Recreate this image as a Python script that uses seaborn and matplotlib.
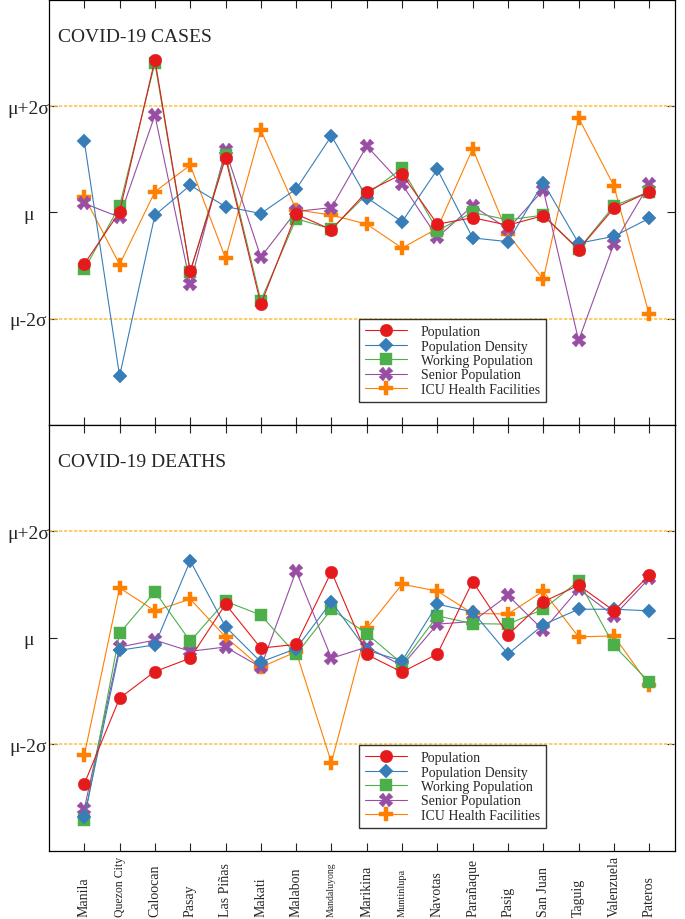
import numpy as np
import pandas as pd
import matplotlib
matplotlib.use("Agg")
import matplotlib.pyplot as plt
import seaborn as sns

# cities along the x axis
cities = ["Manila", "Quezon City", "Caloocan", "Pasay", "Las Piñas", "Makati",
          "Malabon", "Mandaluyong", "Marikina", "Muntinlupa", "Navotas",
          "Parañaque", "Pasig", "San Juan", "Taguig", "Valenzuela", "Pateros"]

series_names = ["Population", "Population Density", "Working Population",
                "Senior Population", "ICU Health Facilities"]

# standardised values (units of sigma around the mean)
pop_cases = [-0.97, 0.01, 2.875, -1.11, 1.025, -1.73, -0.03, -0.325, 0.39, 0.72,
             -0.22, -0.10, -0.24, -0.06, -0.70, 0.08, 0.39]
dens_cases = [1.34, -3.08, -0.05, 0.51, 0.11, -0.02, 0.44, 1.44, 0.28, -0.175,
              0.81, -0.48, -0.55, 0.56, -0.58, -0.45, -0.11]
work_cases = [-1.07, 0.12, 2.81, -1.12, 1.09, -1.66, -0.12, -0.31, 0.34, 0.83,
              -0.34, 0.0, -0.14, -0.05, -0.69, 0.125, 0.39]
senior_cases = [0.17, -0.09, 1.83, -1.34, 1.17, -0.84, 0.02, 0.09, 1.25, 0.53,
                -0.47, 0.125, -0.31, 0.425, -2.41, -0.59, 0.53]
icu_cases = [0.30, -0.98, 0.39, 0.89, -0.86, 1.55, 0.05, -0.05, -0.22, -0.67,
             -0.30, 1.20, -0.41, -1.26, 1.78, 0.50, -1.92]

pop_deaths = [-2.74, -1.13, -0.63, -0.38, 0.635, -0.19, -0.12, 1.245, -0.31, -0.64,
              -0.30, 1.06, 0.06, 0.68, 0.99, 0.51, 1.18]
dens_deaths = [-3.36, -0.23, -0.13, 1.45, 0.21, -0.45, -0.20, 0.68, -0.23, -0.43,
               0.635, 0.49, -0.30, 0.25, 0.54, 0.54, 0.51]
work_deaths = [-3.41, 0.09, 0.87, -0.06, 0.69, 0.43, -0.31, 0.54, 0.08, -0.48,
               0.415, 0.27, 0.26, 0.54, 1.07, -0.14, -0.83]
senior_deaths = [-3.21, -0.17, -0.04, -0.25, -0.17, -0.55, 1.26, -0.38, -0.17, -0.52,
                 0.26, 0.31, 0.80, 0.145, 0.92, 0.415, 1.12]
icu_deaths = [-2.20, 0.94, 0.51, 0.73, 0.02, -0.55, -0.26, -2.34, 0.18, 1.01,
              0.88, 0.46, 0.45, 0.88, 0.02, 0.04, -0.89]

ytick_vals = [-2, 0, 2]
ytick_labels = ["μ-2σ", "μ", "μ+2σ"]

colors = ["#e41a1c", "#377eb8", "#4daf4a", "#984ea3", "#ff7f00"]
markers = ["o", "D", "s", "X", "P"]
msizes = [9, 7.5, 8, 9.5, 9.5]
small_labels = {"Quezon City": 8.5, "Mandaluyong": 7, "Muntinlupa": 7.5}

sns.set_style("ticks")
plt.rcParams["font.family"] = ["Liberation Serif", "DejaVu Serif"]


def make_frame(vals):
    df = pd.DataFrame({"city": cities})
    for name, v in zip(series_names, vals):
        df[name] = v
    return df.melt(id_vars="city", var_name="factor", value_name="z")


def draw_panel(ax, df, title):
    # mean +/- 2 sigma reference lines
    for lvl in (2, -2):
        ax.axhline(lvl, color="#ffc34d", lw=1.2, ls=(0, (2, 1)), zorder=1)
    # draw back to front: ICU first, Population last (on top)
    for i in reversed(range(len(series_names))):
        sub = df[df["factor"] == series_names[i]]
        sns.lineplot(data=sub, x="city", y="z", ax=ax, sort=False,
                     color=colors[i], marker=markers[i], markersize=msizes[i],
                     mec=colors[i], mew=0.3, lw=0.8, label=series_names[i],
                     zorder=3 + len(series_names) - i)
    handles, labels = ax.get_legend_handles_labels()
    order = [labels.index(n) for n in series_names]
    leg = ax.legend([handles[k] for k in order], [labels[k] for k in order],
                    loc="lower left", bbox_to_anchor=(0.495, 0.054),
                    borderaxespad=0, fontsize=10, frameon=True, fancybox=False,
                    edgecolor="#333333", framealpha=1, handlelength=3.0,
                    handletextpad=1.0, labelspacing=0.1, borderpad=0.45)
    leg.get_frame().set_linewidth(1.0)
    ax.text(0.015, 0.915, title, transform=ax.transAxes, fontsize=14,
            ha="left", va="center")
    ax.set_ylim(-4, 4)
    ax.set_xlim(-1, len(cities) - 0.27)
    ax.set_yticks(ytick_vals)
    ax.set_yticklabels(ytick_labels, fontsize=14, ha="center")
    ax.set_xlabel("")
    ax.set_ylabel("")
    ax.tick_params(direction="in", top=True, right=True, length=5.5,
                   width=0.8, color="#222222")
    ax.tick_params(axis="y", pad=15)
    for s in ax.spines.values():
        s.set_linewidth(0.9)
        s.set_color("black")


fig = plt.figure(figsize=(6.85, 9.2), dpi=100)
ax1 = fig.add_axes([0.0715, 0.537, 0.9139, 0.462])
ax2 = fig.add_axes([0.0715, 0.0739, 0.9139, 0.4631], sharex=ax1)

draw_panel(ax1, make_frame([pop_cases, dens_cases, work_cases, senior_cases, icu_cases]),
           "COVID-19 CASES")
draw_panel(ax2, make_frame([pop_deaths, dens_deaths, work_deaths, senior_deaths, icu_deaths]),
           "COVID-19 DEATHS")

ax1.tick_params(axis="x", labelbottom=False)
ax2.tick_params(axis="x", pad=47)
ax2.set_xticks(range(len(cities)))
ax2.set_xticklabels(cities, rotation=90, va="bottom", fontsize=10)
for lab in ax2.get_xticklabels():
    if lab.get_text() in small_labels:
        lab.set_fontsize(small_labels[lab.get_text()])

fig.savefig("out.png", dpi=100)
